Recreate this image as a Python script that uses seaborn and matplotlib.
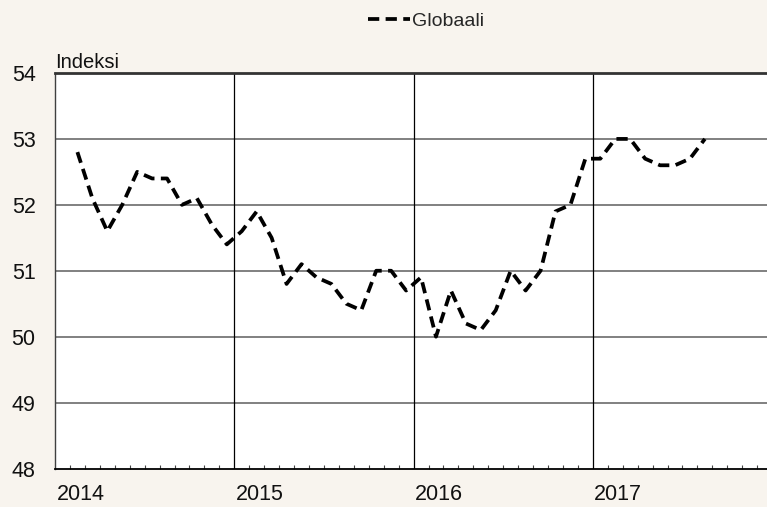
import matplotlib
matplotlib.use("Agg")
import matplotlib.pyplot as plt
import matplotlib.transforms as mtransforms
import numpy as np
import pandas as pd
import seaborn as sns

# ---- data ----
months = [str(p) for p in pd.period_range("2014-02", "2017-08", freq="M")]
globaali = [52.8, 52.1, 51.6, 52.0, 52.5, 52.4, 52.4, 52.0, 52.1, 51.7, 51.4,
            51.6, 51.9, 51.5, 50.8, 51.1, 50.9, 50.8, 50.5, 50.4, 51.0, 51.0, 50.7,
            50.9, 50.0, 50.7, 50.2, 50.1, 50.4, 51.0, 50.7, 51.0, 51.9, 52.0, 52.7,
            52.7, 53.0, 53.0, 52.7, 52.6, 52.6, 52.7, 53.0]
years = [2014, 2015, 2016, 2017]
y_ticks = [48, 49, 50, 51, 52, 53, 54]
series_name = "Globaali"
y_title = "Indeksi"

# ---- style ----
sns.set_style("white")
plt.rcParams["font.family"] = ["Liberation Sans", "DejaVu Sans"]
bg = "#f8f4ee"

W, H = 767, 507
fig = plt.figure(figsize=(W / 100, H / 100), dpi=100, facecolor=bg)
left_px, right_px, top_px, bot_px = 55, 767, 73, 468.5
ax = fig.add_axes([left_px / W, 1 - bot_px / H, (right_px - left_px) / W, (bot_px - top_px) / H])
ax.set_facecolor("white")

df = pd.DataFrame({"month": pd.PeriodIndex(months, freq="M"), "value": globaali})
df["x"] = (df["month"].dt.year - years[0]) * 12 + (df["month"].dt.month - 1) + 0.5

month_px = 14.94
ax.set_xlim(0, (right_px - left_px) / month_px)
ax.set_ylim(y_ticks[0], y_ticks[-1])

# grid
for yv in y_ticks[1:-1]:
    ax.axhline(yv, color="#808080", lw=1.4, zorder=1)
for i in range(1, len(years)):
    ax.axvline(i * 12, color="black", lw=0.9, zorder=1)

sns.lineplot(data=df, x="x", y="value", ax=ax, color="black", lw=2.7,
             linestyle=(0, (3.0, 1.7)), label=series_name, zorder=3)

# axes styling
ax.spines["right"].set_visible(False)
ax.spines["top"].set_color("#333333")
ax.spines["top"].set_linewidth(2.0)
ax.spines["bottom"].set_color("black")
ax.spines["bottom"].set_linewidth(1.3)
ax.spines["left"].set_color("#404040")
ax.spines["left"].set_linewidth(1.0)

ax.set_yticks(y_ticks)
ax.set_yticklabels([str(v) for v in y_ticks])
ax.tick_params(axis="y", length=0, pad=14.0, labelsize=15.5, labelcolor="#111111")
ax.set_xticks([])
minor = [m for m in range(1, 48) if m % 12 != 0]
ax.set_xticks(minor, minor=True)
ax.tick_params(axis="x", which="minor", bottom=True, direction="in", length=3.0,
               width=0.8, color="#444444")
ax.set_xlabel("")
ax.set_ylabel("")

# year labels
trans = mtransforms.blended_transform_factory(ax.transData, ax.transAxes)
for i, yr in enumerate(years):
    ax.text(i * 12 + 0.1, -0.066, str(yr), transform=trans, ha="left", va="center",
            fontsize=15.5, color="#111111")

ax.text(0.0, 1.003, y_title, transform=ax.transAxes, ha="left", va="bottom",
        fontsize=14.5, color="#111111")

leg = ax.legend(loc="center", bbox_to_anchor=(426 / W, 1 - 21 / H), bbox_transform=fig.transFigure,
                frameon=False, fontsize=14, handlelength=2.2, handletextpad=0.1)

fig.savefig("out.png", dpi=100, facecolor=bg)
